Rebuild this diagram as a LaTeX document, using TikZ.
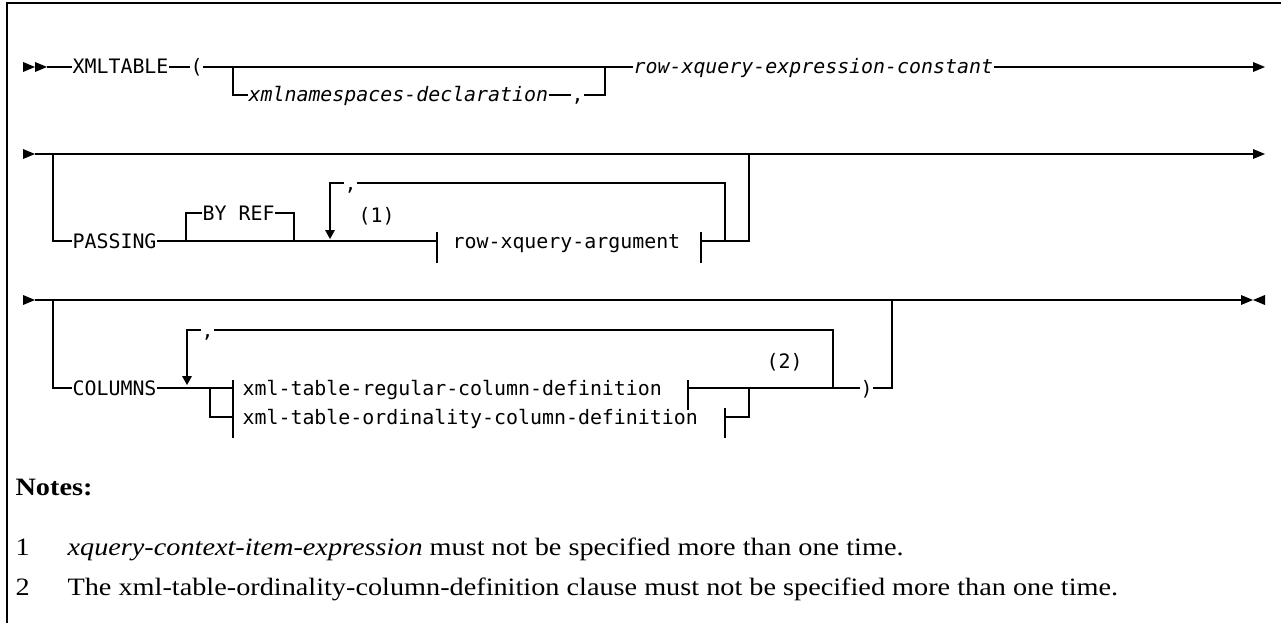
\documentclass[tikz,border=0pt]{standalone}
\usepackage{fontspec}
\setmainfont{Liberation Serif}
\setmonofont{DejaVu Sans Mono}
\newfontfamily\notefont[FakeStretch=1.13]{Liberation Serif}
\begin{document}
\begin{tikzpicture}[x=1pt,y=-1pt,line width=1.2pt,
  kw/.style={font=\fontsize{19.9}{24}\selectfont\ttfamily,inner sep=0pt,anchor=base west},
  var/.style={font=\fontsize{19.9}{24}\selectfont\ttfamily\itshape,inner sep=0pt,anchor=base west},
  note/.style={font=\fontsize{25}{30}\selectfont\notefont,inner sep=0pt,anchor=base west}]
\useasboundingbox (0,0) rectangle (1281,623);
% frame
\draw (7,623) -- (7,3) -- (1281,3);

% ---------- Row 1 ----------
\fill (23,62) -- (35,67) -- (23,72) -- cycle;
\fill (35,62) -- (47,67) -- (35,72) -- cycle;
\coordinate (r1s) at (47,67);
\coordinate (r1e) at (1253,67);
\node[kw] (xmltable) at (72,74) {XMLTABLE};
\node[kw] (lp) at (190,74) {(};
\node[var] (rxec) at (633,74) {row-xquery-expression-constant};
\draw (r1s) -- (xmltable.west|-r1s);
\draw (xmltable.east|-r1s) -- (lp.west|-r1s);
\draw (lp.east|-r1s) -- (rxec.west|-r1s);
\draw (rxec.east|-r1s) -- (r1e);
\fill (1253,62) -- (1265,67) -- (1253,72) -- cycle;
\coordinate (b1a) at (233,67);
\coordinate (b1b) at (233,95);
\coordinate (b1c) at (605,95);
\coordinate (b1d) at (605,67);
\node[var] (xmlns) at (248,102) {xmlnamespaces-declaration};
\node[kw] (c1) at (571,102) {,};
\draw (b1a) -- (b1b) -- (xmlns.west|-b1b);
\draw (xmlns.east|-b1b) -- (c1.west|-b1b);
\draw (c1.east|-b1b) -- (b1c) -- (b1d);

% ---------- Row 2 ----------
\fill (23,149) -- (35,154) -- (23,159) -- cycle;
\coordinate (r2s) at (35,154);
\coordinate (r2e) at (1253,154);
\draw (r2s) -- (r2e);
\fill (1253,149) -- (1265,154) -- (1253,159) -- cycle;
\coordinate (p1) at (53,154);
\coordinate (p2) at (53,241);
\node[kw] (passing) at (72,248) {PASSING};
\node[kw] (rxa) at (452,248) {row-xquery-argument};
\coordinate (bar1) at (437,241);
\draw (p1) -- (p2) -- (passing.west|-p2);
\draw (passing.east|-p2) -- (bar1);
\draw (437,232) -- (437,263);
\draw (701,232) -- (701,263);
% BY REF
\coordinate (br1) at (186,241);
\coordinate (br2) at (186,213);
\coordinate (br3) at (294,213);
\coordinate (br4) at (294,241);
\node[kw] (byref) at (202,220) {BY REF};
\draw (br1) -- (br2) -- (byref.west|-br2);
\draw (byref.east|-br2) -- (br3) -- (br4);
% repeat loop
\coordinate (l1t) at (330,183);
\coordinate (l2) at (725,183);
\coordinate (l3) at (725,241);
\node[kw] (c2) at (344,190) {,};
\node[kw] (fn1) at (358,222) {(1)};
\draw (c2.west|-l1t) -- (l1t) -- (330,231);
\fill (325,230) -- (335,230) -- (330,239) -- cycle;
\draw (c2.east|-l1t) -- (l2) -- (l3);
\coordinate (r2j) at (749,154);
\draw (701,241) -- (749,241) -- (r2j);

% ---------- Row 3 ----------
\fill (23,295) -- (35,300) -- (23,305) -- cycle;
\coordinate (r3s) at (35,300);
\coordinate (r3e) at (1241,300);
\draw (r3s) -- (r3e);
\fill (1241,295) -- (1253,300) -- (1241,305) -- cycle;
\fill (1265,295) -- (1253,300) -- (1265,305) -- cycle;
\coordinate (q1) at (53,300);
\coordinate (q2) at (53,388);
\node[kw] (columns) at (72,395) {COLUMNS};
\draw (q1) -- (q2) -- (columns.west|-q2);
\draw (columns.east|-q2) -- (233,388);
% loop
\coordinate (m1) at (187,330);
\coordinate (m2) at (833,330);
\coordinate (m3) at (833,388);
\node[kw] (c3) at (201,337) {,};
\draw (c3.west|-m1) -- (m1) -- (187,377);
\fill (182,376) -- (192,376) -- (187,385) -- cycle;
\draw (c3.east|-m1) -- (m2) -- (m3);
% choice
\draw (210,388) -- (210,417) -- (233,417);
\draw (233,380) -- (233,438);
\node[kw] (reg) at (242,395) {xml-table-regular-column-definition};
\node[kw] (ord) at (242,424) {xml-table-ordinality-column-definition};
\draw (688,380) -- (688,410);
\draw (725,408) -- (725,438);
\draw (725,417) -- (749,417) -- (749,388);
\node[kw] (fn2) at (766,368) {(2)};
\node[kw] (rp) at (860,395) {)};
\coordinate (r3j) at (892,300);
\draw (688,388) -- (rp.west|-m3);
\draw (rp.east|-m3) -- (892,388) -- (r3j);

% ---------- Notes ----------
\node[note,font=\fontsize{25}{30}\selectfont\notefont\bfseries] (notes) at (15,495) {Notes:};
\node[note] (n1num) at (15,555) {1};
\node[note] (n1) at (67,555) {\textit{xquery-context-item-expression} must not be specified more than one time.};
\node[note] (n2num) at (15,595) {2};
\node[note] (n2) at (67,595) {The xml-table-ordinality-column-definition clause must not be specified more than one time.};
\end{tikzpicture}
\end{document}
